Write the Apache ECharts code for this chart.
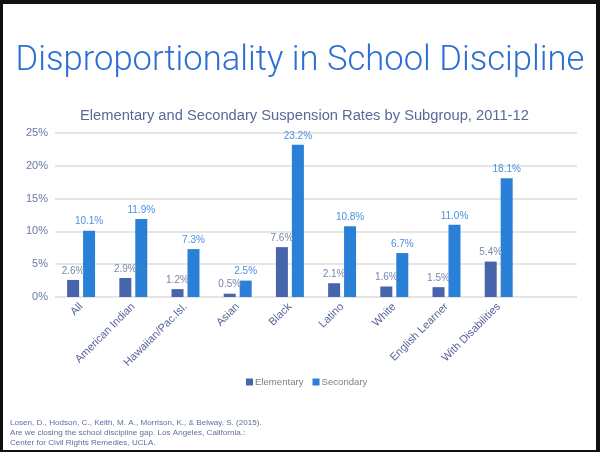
<!DOCTYPE html>
<html><head><meta charset="utf-8">
<script src="https://cdn.jsdelivr.net/npm/echarts@6/dist/echarts.min.js"></script>
<style>
html,body{margin:0;padding:0;background:#fff;}
#frame{position:absolute;left:0;top:0;width:600px;height:452px;box-sizing:border-box;border-left:3px solid #111;border-top:4px solid #111;border-right:4px solid #111;border-bottom:2px solid #111;}
#chart{position:absolute;left:0;top:0;width:600px;height:452px;}
</style></head>
<body>
<div id="chart"></div>
<div id="frame"></div>
<script>
const categories = ["All","American Indian","Hawaiian/Pac.Isl.","Asian","Black","Latino","White","English Learner","With Disabilities"];
const elementary = [2.6,2.9,1.2,0.5,7.6,2.1,1.6,1.5,5.4];
const secondary = [10.1,11.9,7.3,2.5,23.2,10.8,6.7,11.0,18.1];
const yTicks = [0,5,10,15,20,25];
const seriesNames = ["Elementary","Secondary"];
const titleText = "Disproportionality in School Discipline";
const subtitleText = "Elementary and Secondary Suspension Rates by Subgroup, 2011-12";
const sourceLines = ["Losen, D., Hodson, C., Keith, M. A., Morrison, K., & Belway, S. (2015).","Are we closing the school discipline gap. Los Angeles, California.:","Center for Civil Rights Remedies, UCLA."];

const chart = echarts.init(document.getElementById('chart'), null, {renderer:'canvas'});
const font = 'Helvetica, "Liberation Sans", Arial, sans-serif';
chart.setOption({
  animation:false,
  title:[
    {text:titleText,left:'center',top:39,textStyle:{color:'#2b6fd3',fontSize:34.6,fontWeight:300,fontFamily:'Roboto, sans-serif'}},
    {text:subtitleText,left:75,top:103,textStyle:{color:'#5a6896',fontSize:14.7,fontWeight:'normal',fontFamily:font}},
    {text:sourceLines.join('\n'),left:5,top:413,textStyle:{color:'#5f6fa0',fontSize:8.1,lineHeight:10,fontWeight:'normal',fontFamily:font}}
  ],
  legend:{data:seriesNames,left:241,top:372,itemWidth:7,itemHeight:7,itemGap:9,icon:'rect',textStyle:{color:'#808080',fontSize:9.6,fontFamily:font,padding:[0,0,0,-3]}},
  grid:{left:55,right:23,top:133,bottom:155},
  xAxis:{type:'category',data:categories.concat(['']),axisLine:{show:false},axisTick:{show:false},
    axisLabel:{rotate:45,interval:0,color:'#55659a',fontSize:11,fontFamily:font,margin:8}},
  yAxis:{type:'value',min:0,max:25,interval:5,
    axisLabel:{formatter:'{value}%',color:'#6a78a6',fontSize:11,fontFamily:font,margin:7},
    splitLine:{lineStyle:{color:'#dcdcdc',width:1.5}},axisLine:{show:false},axisTick:{show:false}},
  series:[
    {name:seriesNames[0],type:'bar',data:elementary,barWidth:12,barGap:'33%',itemStyle:{color:'#4665ad'},
     label:{show:true,position:'top',distance:4,formatter:p=>p.value.toFixed(1)+'%',color:'#7a86ab',fontSize:10,fontFamily:font}},
    {name:seriesNames[1],type:'bar',data:secondary,barWidth:12,itemStyle:{color:'#2a7fd6'},
     label:{show:true,position:'top',distance:4,formatter:p=>p.value.toFixed(1)+'%',color:'#4a8fe0',fontSize:10,fontFamily:font}}
  ]
});
</script>
</body></html>
